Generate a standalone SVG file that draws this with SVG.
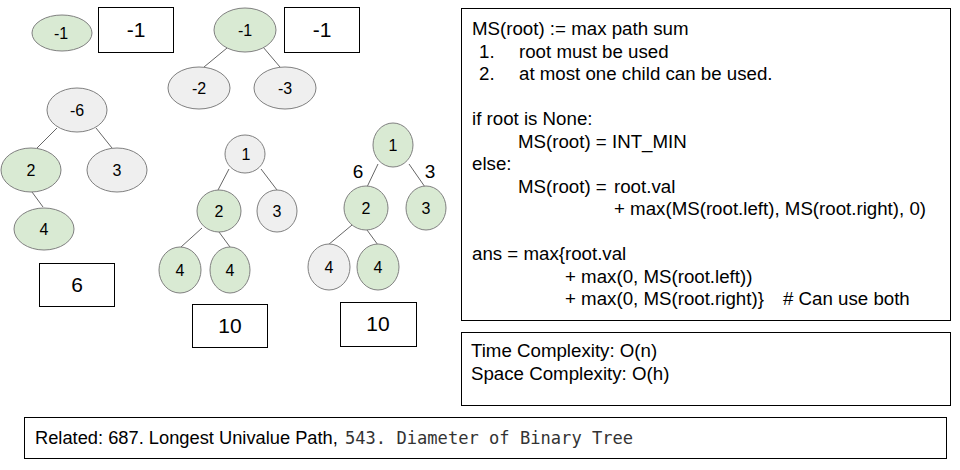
<svg xmlns="http://www.w3.org/2000/svg" width="960" height="470" viewBox="0 0 960 470">
<style>
.g{fill:#d9ead3;stroke:#808080;stroke-width:1}
.y{fill:#efefef;stroke:#808080;stroke-width:1}
.b{fill:#fff;stroke:#000;stroke-width:1}
.e{stroke:#666;stroke-width:1;fill:none}
text{font-family:"Liberation Sans",Arial,sans-serif;fill:#000}
.n{font-size:16px;text-anchor:middle}
.bt{font-size:21px;text-anchor:middle}
.lb{font-size:19px;text-anchor:middle}
.t{font-size:18.7px}
.r{font-size:18.3px}
.m{font-family:"DejaVu Sans Mono","Liberation Mono",monospace;font-size:17.1px;fill:#333}
</style>
<rect width="960" height="470" fill="#fff"/>
<g id="connectors">
<line class="e" x1="227" y1="48" x2="204" y2="67"/>
<line class="e" x1="263" y1="47" x2="280" y2="67"/>
<line class="e" x1="57" y1="128" x2="37" y2="148"/>
<line class="e" x1="96" y1="128" x2="112" y2="148"/>
<line class="e" x1="32" y1="192" x2="43" y2="207"/>
<line class="e" x1="229" y1="169" x2="218" y2="190"/>
<line class="e" x1="261" y1="169" x2="277" y2="190"/>
<line class="e" x1="202" y1="228" x2="181" y2="247"/>
<line class="e" x1="219" y1="232" x2="230" y2="247"/>
<line class="e" x1="378" y1="164" x2="367" y2="187"/>
<line class="e" x1="409" y1="164" x2="425" y2="187"/>
<line class="e" x1="352" y1="225" x2="328" y2="245"/>
<line class="e" x1="367" y1="230" x2="378" y2="245"/>
</g>
<g id="t1n1"><ellipse class="g" cx="62" cy="33" rx="30" ry="18"/><text class="n" x="61" y="39">-1</text></g>
<g id="ans1"><rect class="b" x="98.5" y="7.5" width="75" height="45"/><text class="bt" x="136" y="37">-1</text></g>
<g id="t2n1"><ellipse class="g" cx="245" cy="30" rx="31" ry="22"/><text class="n" x="245" y="36">-1</text></g>
<g id="t2n2"><ellipse class="y" cx="199" cy="88" rx="31" ry="21"/><text class="n" x="199" y="94">-2</text></g>
<g id="t2n3"><ellipse class="y" cx="285" cy="88" rx="31" ry="21"/><text class="n" x="285" y="94">-3</text></g>
<g id="ans2"><rect class="b" x="284.5" y="7.5" width="75" height="45"/><text class="bt" x="322" y="37">-1</text></g>
<g id="t3n1"><ellipse class="y" cx="77" cy="110" rx="30" ry="22"/><text class="n" x="77" y="116">-6</text></g>
<g id="t3n2"><ellipse class="g" cx="31" cy="170" rx="30" ry="22"/><text class="n" x="31" y="176">2</text></g>
<g id="t3n3"><ellipse class="y" cx="117" cy="170" rx="30" ry="22"/><text class="n" x="117" y="176">3</text></g>
<g id="t3n4"><ellipse class="g" cx="44" cy="229" rx="30" ry="21"/><text class="n" x="44" y="235">4</text></g>
<g id="ans3"><rect class="b" x="39.5" y="263.5" width="75" height="43"/><text class="bt" x="77" y="292">6</text></g>
<g id="t4n1"><ellipse class="y" cx="245" cy="154" rx="20" ry="19"/><text class="n" x="246" y="160">1</text></g>
<g id="t4n2"><ellipse class="g" cx="219" cy="211" rx="22" ry="21"/><text class="n" x="219" y="217">2</text></g>
<g id="t4n3"><ellipse class="y" cx="277" cy="211" rx="20" ry="21"/><text class="n" x="277" y="217">3</text></g>
<g id="t4n4"><ellipse class="g" cx="180" cy="270" rx="21" ry="23"/><text class="n" x="180" y="276">4</text></g>
<g id="t4n5"><ellipse class="g" cx="230" cy="270" rx="20" ry="23"/><text class="n" x="230" y="276">4</text></g>
<g id="ans4"><rect class="b" x="192.5" y="304.5" width="75" height="43"/><text class="bt" x="230" y="333">10</text></g>
<g id="t5n1"><ellipse class="g" cx="393" cy="145" rx="20" ry="22"/><text class="n" x="393" y="151">1</text></g>
<g id="t5n2"><ellipse class="g" cx="366" cy="208" rx="22" ry="22"/><text class="n" x="366" y="214">2</text></g>
<g id="t5n3"><ellipse class="g" cx="426" cy="208" rx="20" ry="22"/><text class="n" x="426" y="214">3</text></g>
<g id="t5n4"><ellipse class="y" cx="329" cy="267" rx="21" ry="23"/><text class="n" x="329" y="273">4</text></g>
<g id="t5n5"><ellipse class="g" cx="378" cy="267" rx="21" ry="23"/><text class="n" x="378" y="273">4</text></g>
<g id="t5l"><text class="lb" x="358" y="178">6</text><text class="lb" x="430" y="178">3</text></g>
<g id="ans5"><rect class="b" x="340.5" y="302.5" width="76" height="44"/><text class="bt" x="378" y="331">10</text></g>
<g id="algo">
<rect class="b" x="461.5" y="8.5" width="489" height="312"/>
<text class="t" x="472" y="35">MS(root) := max path sum</text>
<text class="t" x="479" y="57.5">1.</text><text class="t" x="519" y="57.5">root must be used</text>
<text class="t" x="479" y="80">2.</text><text class="t" x="519" y="80">at most one child can be used.</text>
<text class="t" x="472" y="125">if root is None:</text>
<text class="t" x="518" y="147.5">MS(root) = INT_MIN</text>
<text class="t" x="472" y="170">else:</text>
<text class="t" x="518" y="192.5">MS(root) =</text><text class="t" x="614" y="192.5">root.val</text>
<text class="t" x="614" y="215">+ max(MS(root.left), MS(root.right), 0)</text>
<text class="t" x="472" y="260">ans = max{root.val</text>
<text class="t" x="565" y="282.5">+ max(0, MS(root.left))</text>
<text class="t" x="565" y="305">+ max(0, MS(root.right)}</text><text class="t" x="783" y="305"># Can use both</text>
</g>
<g id="complexity">
<rect class="b" x="461.5" y="332.5" width="489" height="73"/>
<text class="t" x="471" y="357">Time Complexity: O(n)</text>
<text class="t" x="471" y="379.5">Space Complexity: O(h)</text>
</g>
<g id="related">
<rect class="b" x="24.5" y="417.5" width="922" height="41"/>
<text class="r" x="35" y="444">Related: 687. Longest Univalue Path,</text>
<text class="m" x="345" y="444">543. Diameter of Binary Tree</text>
</g>
</svg>
